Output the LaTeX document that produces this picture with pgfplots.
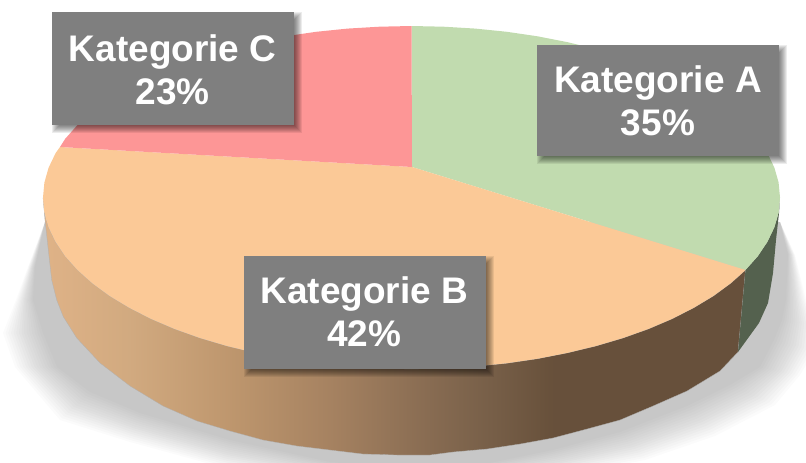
\documentclass[border=0pt]{standalone}
\usepackage{fontspec}
\setmainfont{Liberation Sans}
\usepackage{pgfplots}
\usepackage{pgfplotstable}
\pgfplotsset{compat=1.18}
\definecolor{cA}{RGB}{193,219,175}
\definecolor{cB}{RGB}{251,201,151}
\definecolor{cC}{RGB}{253,150,150}
\definecolor{sA}{RGB}{84,97,78}
\definecolor{box}{RGB}{127,127,127}
\pgfdeclarehorizontalshading{sideB}{100bp}{
 rgb(0bp)=(.875,.70,.53);
 rgb(25bp)=(.875,.70,.53);
 rgb(31.2bp)=(.82,.665,.50);
 rgb(38.3bp)=(.745,.59,.43);
 rgb(45.4bp)=(.65,.51,.38);
 rgb(52.6bp)=(.53,.42,.32);
 rgb(56.6bp)=(.47,.375,.285);
 rgb(61.3bp)=(.405,.315,.23);
 rgb(100bp)=(.405,.315,.23)}
\pgfplotstableread{
ix iy ox oy
780 222 780 222
788 255 795 255
786 300 806 300
782 320 815 325
774 340 815 350
760 367 800 375
730 385 775 405
687 406 715 436
620 432 645 460
553 450 565 475
480 465 490 485
412 470 412 490
330 462 330 485
230 440 225 468
140 413 130 442
90 392 60 420
57 367 15 367
43 333 3 333
33 300 16 300
35 267 28 267
45 222 45 222
}\shadowtab
\newcommand{\labelbox}[4]{%
  \pgfplotsinvokeforeach{-3,-2,-1,0,1,2,3,4}{%
    \addplot[forget plot,draw=none,fill=black,fill opacity=.075] coordinates {(#1+4-##1,#2+4-##1) (#3+4+##1,#2+4-##1) (#3+4+##1,#4+4+##1) (#1+4-##1,#4+4+##1)} --cycle;
  }
  \addplot[forget plot,draw=none,fill=box] coordinates {(#1,#2) (#3,#2) (#3,#4) (#1,#4)} --cycle;
}
\begin{document}
\begin{tikzpicture}
\begin{axis}[name=ax,scale only axis,width=806pt,height=463pt,xmin=0,xmax=806,ymin=0,ymax=463,
  y dir=reverse,axis lines=none,clip=true,no markers]
% soft shadow
\pgfplotsinvokeforeach{1,.935,.87,.8,.735,.67,.6,.535,.47,.4,.335,.27,.2,.135,.07,0}{
 \addplot[forget plot,draw=none,fill=black,fill opacity=.0146]
  table[x expr=\thisrow{ix}+#1*(\thisrow{ox}-\thisrow{ix}),y expr=\thisrow{iy}+#1*(\thisrow{oy}-\thisrow{iy})] {\shadowtab} --cycle;
}
% side of B
\addplot[forget plot,draw=black!30,line width=.3pt,shading=sideB,shading angle=0] coordinates {
(745.5,270)(730.6,283.3)(713.4,295.9)(693.8,307.7)(672.1,318.8)(648.4,328.9)(622.9,338)(595.8,346)(567.2,352.9)(537.5,358.7)(506.9,363.2)(475.5,366.4)(443.6,368.3)(411.5,369)
(379.4,368.3)(347.5,366.4)(316.1,363.2)(285.5,358.7)(255.8,352.9)(227.2,346)(200.1,338)(174.6,328.9)(150.9,318.8)(129.2,307.7)(109.6,295.9)(92.4,283.3)(77.5,270)(65.2,256.2)(55.6,241.9)(48.6,227.3)(44.4,212.5)(43,197.5)
(45,220)(48.3,250)(51.7,280)(56.7,300)(63.3,316.7)(76.7,338)(100,363)(130,386)(163,406)(197,421)(230,431)(263,440)(297,446)(330,450)(363,454)(397,455)(430,455)(453,452)(487,449)(520,444)(553,438)(587,429)(620,420)(653,406)(687,391)(720,371)(738,352)
} --cycle;
% side of A
\addplot[forget plot,draw=none,fill=sA] coordinates {
(745.5,270)(757.8,256.2)(767.4,241.9)(774.4,227.3)(778.6,212.5)(780,197.5)(779,213)(776,240)(773,273)(768,303)(759,323)(738,352)
} --cycle;
% top A
\addplot[forget plot,draw=none,fill=cA] coordinates {
(412,167)(411.5,26)(443.6,26.7)(475.5,28.6)(506.9,31.8)(537.5,36.3)(567.2,42.1)(595.8,49)(622.9,57)(648.4,66.1)(672.1,76.2)(693.8,87.3)(713.4,99.1)(730.6,111.7)(745.5,125)(757.8,138.8)(767.4,153.1)(774.4,167.7)(778.6,182.5)(780,197.5)(778.6,212.5)(774.4,227.3)(767.4,241.9)(757.8,256.2)(745.5,270)
} --cycle;
% top B
\addplot[forget plot,draw=none,fill=cB] coordinates {
(412,167)(745.5,270)(730.6,283.3)(713.4,295.9)(693.8,307.7)(672.1,318.8)(648.4,328.9)(622.9,338)(595.8,346)(567.2,352.9)(537.5,358.7)(506.9,363.2)(475.5,366.4)(443.6,368.3)(411.5,369)
(379.4,368.3)(347.5,366.4)(316.1,363.2)(285.5,358.7)(255.8,352.9)(227.2,346)(200.1,338)(174.6,328.9)(150.9,318.8)(129.2,307.7)(109.6,295.9)(92.4,283.3)(77.5,270)(65.2,256.2)(55.6,241.9)(48.6,227.3)(44.4,212.5)(43,197.5)(44.4,182.5)(48.6,167.7)(55.6,153.1)(60,147)
} --cycle;
% top C
\addplot[forget plot,draw=none,fill=cC] coordinates {
(412,167)(60,147)(65.2,138.8)(77.5,125)(92.4,111.7)(109.6,99.1)(129.2,87.3)(150.9,76.2)(174.6,66.1)(200.1,57)(227.2,49)(255.8,42.1)(285.5,36.3)(316.1,31.8)(347.5,28.6)(379.4,26.7)(411.5,26)
} --cycle;
% labels
\labelbox{537}{45}{779}{156}
\labelbox{244}{256}{486}{369}
\labelbox{52}{12}{294}{125}
\begin{scope}[every node/.style={anchor=base,text=white,inner sep=0pt,font=\fontsize{37}{43}\selectfont\bfseries}]
\node at (axis cs:658,92.7) {Kategorie A};
\node at (axis cs:658,135) {35\%};
\node at (axis cs:364.3,303) {Kategorie B};
\node at (axis cs:364.3,346.7) {42\%};
\node at (axis cs:172.7,61) {Kategorie C};
\node at (axis cs:172.7,104) {23\%};
\end{scope}
\end{axis}
\pgfresetboundingbox
\useasboundingbox (ax.south west) rectangle (ax.north east);
\end{tikzpicture}
\end{document}
